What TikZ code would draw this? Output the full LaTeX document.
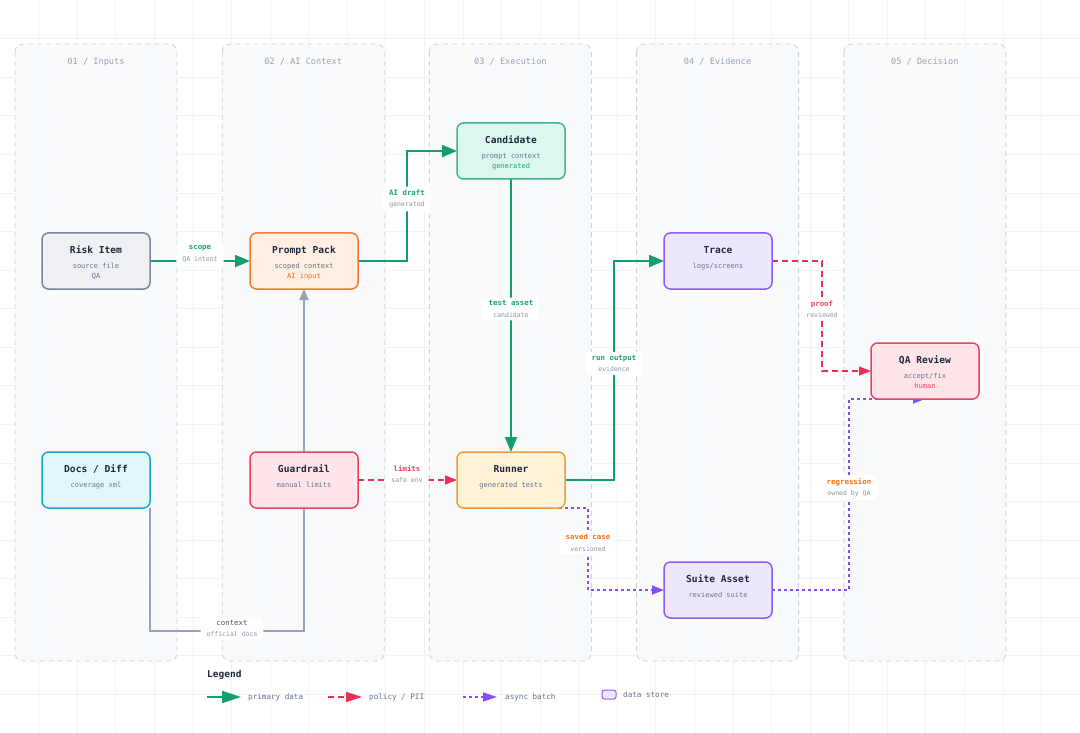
\documentclass[tikz,border=0pt]{standalone}
\usepackage{fontspec}
\setmainfont{DejaVu Sans Mono}
\usetikzlibrary{arrows.meta,calc}
\definecolor{gridc}{HTML}{F1F4F7}
\definecolor{lanefill}{HTML}{F8FAFC}
\definecolor{laneline}{HTML}{CBD5E1}
\definecolor{lanetext}{HTML}{94A3B8}
\definecolor{ink}{HTML}{1E293B}
\definecolor{subink}{HTML}{64748B}
\definecolor{lsub}{HTML}{8A94A6}
\definecolor{gline}{HTML}{129E6E}
\definecolor{gtext}{HTML}{17A673}
\definecolor{rline}{HTML}{EC2F55}
\definecolor{rtext}{HTML}{F43F5E}
\definecolor{pline}{HTML}{8450F4}
\definecolor{otext}{HTML}{F47216}
\definecolor{grline}{HTML}{94A3B8}
\definecolor{ctxtext}{HTML}{475569}
% node colours
\definecolor{riskfill}{HTML}{EEF0F4}\definecolor{riskline}{HTML}{7A8599}
\definecolor{docsfill}{HTML}{E0F8FC}\definecolor{docsline}{HTML}{1FA3C8}
\definecolor{promptfill}{HTML}{FFEEE2}\definecolor{promptline}{HTML}{F47A36}
\definecolor{rosefill}{HTML}{FFE5EA}\definecolor{roseline}{HTML}{EA4262}
\definecolor{candfill}{HTML}{DCF8EE}\definecolor{candline}{HTML}{3DB887}
\definecolor{runfill}{HTML}{FEF3D6}\definecolor{runline}{HTML}{EE9B33}
\definecolor{violfill}{HTML}{EDE7FE}\definecolor{violline}{HTML}{8B5CF6}
\pgfdeclarelayer{bg}\pgfdeclarelayer{edges}\pgfdeclarelayer{fg}
\pgfsetlayers{bg,edges,main,fg}
\newcommand\lblfont{\fontsize{7.4}{11.5}\selectfont\bfseries}
\newcommand\mkbox[6]{%
  \node[box,#4] (#1) at (#2,#3) {};
  \node[ttl] at ($(#1.center)+(0,-7.5)$) {#5};
  \node[subt] at ($(#1.center)+(0,7.5)$) {#6};
}
\begin{document}
\begin{tikzpicture}[x=1pt,y=-1pt,
  lane/.style={draw=laneline,fill=lanefill,fill opacity=0.85,draw opacity=1,line width=0.9pt,dash pattern=on 5pt off 4pt,rounded corners=8pt},
  lanettl/.style={text=lanetext,font=\fontsize{8.6}{10}\selectfont,inner sep=0pt,anchor=center},
  box/.style={draw,minimum width=108pt,minimum height=56pt,inner sep=0pt,outer sep=0pt,rounded corners=6.5pt,line width=1.5pt},
  ttl/.style={anchor=base,inner sep=0pt,text=ink,font=\fontsize{9.6}{11}\selectfont\bfseries},
  subt/.style={anchor=base,inner sep=0pt,text=subink,font=\fontsize{7}{8}\selectfont},
  risk/.style={fill=riskfill,draw=riskline},
  docs/.style={fill=docsfill,draw=docsline},
  prompt/.style={fill=promptfill,draw=promptline},
  rose/.style={fill=rosefill,draw=roseline},
  cand/.style={fill=candfill,draw=candline},
  run/.style={fill=runfill,draw=runline},
  viol/.style={fill=violfill,draw=violline},
  gflow/.style={draw=gline,line width=2pt,-{Triangle[length=15pt,width=12pt]}},
  rflow/.style={draw=rline,line width=1.6pt,dash pattern=on 6pt off 4pt,-{Triangle[length=12pt,width=9pt]}},
  pflow/.style={draw=pline,line width=1.6pt,dash pattern=on 3pt off 3pt,-{Triangle[length=12pt,width=9pt]}},
  grflow/.style={draw=grline,line width=1.6pt,-{Triangle[length=11pt,width=9pt]}},
  elbl/.style={fill=white,rounded corners=3pt,inner xsep=6pt,inner ysep=3pt,align=center,text=lsub,font=\fontsize{6.5}{11.5}\selectfont},
  legtext/.style={anchor=west,inner sep=0pt,text=subink,font=\fontsize{7.6}{9}\selectfont},
]
\useasboundingbox (0,0) rectangle (1080,733);
\begin{pgfonlayer}{bg}
  \fill[white] (0,0) rectangle (1080,733);
  \foreach \i in {1,...,28} \draw[gridc,line width=0.5pt] (\i*38.57,0) -- (\i*38.57,733);
  \foreach \j in {1,...,19} \draw[gridc,line width=0.5pt] (0,\j*38.57) -- (1080,\j*38.57);
  \foreach \k/\t in {0/{01 / Inputs},1/{02 / AI Context},2/{03 / Execution},3/{04 / Evidence},4/{05 / Decision}}{
    \draw[lane] (15+207.2*\k,44) rectangle (177+207.2*\k,661);
    \node[lanettl] at (96+207.2*\k,62) {\t};
  }
\end{pgfonlayer}

% nodes
\mkbox{risk}{96}{261}{risk}{Risk Item}{source file}
\node[subt] at ($(risk.center)+(0,17.5)$) {QA};
\mkbox{docs}{96}{480}{docs}{Docs / Diff}{coverage xml}
\mkbox{prompt}{304}{261}{prompt}{Prompt Pack}{scoped context}
\node[subt,text=otext] at ($(prompt.center)+(0,17.5)$) {AI input};
\mkbox{guard}{304}{480}{rose}{Guardrail}{manual limits}
\mkbox{cand}{511}{151}{cand}{Candidate}{prompt context}
\node[subt,text=gtext] at ($(cand.center)+(0,17.5)$) {generated};
\mkbox{runner}{511}{480}{run}{Runner}{generated tests}
\mkbox{trace}{718}{261}{viol}{Trace}{logs/screens}
\mkbox{suite}{718}{590}{viol}{Suite Asset}{reviewed suite}
\mkbox{qa}{925}{371}{rose}{QA Review}{accept/fix}
\node[subt,text=rtext] at ($(qa.center)+(0,17.5)$) {human};

% connectors
\begin{pgfonlayer}{edges}
  \draw[gflow] (risk.east) -- (prompt.west);
  \draw[gflow] (prompt.east) -- ++(49,0) |- (cand.west);
  \draw[gflow] (cand.south) -- (runner.north);
  \draw[gflow] (runner.east) -- ++(49,0) |- (trace.west);
  \draw[rflow] (guard.east) -- (runner.west);
  \draw[rflow] (trace.east) -- ++(50,0) |- (qa.west);
  \draw[pflow] (runner.south) -- ++(77,0) |- (suite.west);
  \draw[pflow] (suite.east) -- ++(77,0) |- (qa.south);
  \draw[grflow] (docs.south east) -- ++(0,123) -| (prompt.south);
\end{pgfonlayer}

% connector labels
\begin{pgfonlayer}{fg}
  \node[elbl] (l1) at (200,254) {{\lblfont\color{gtext}scope}\\QA intent};
  \node[elbl] (l2) at (407,199) {{\lblfont\color{gtext}AI draft}\\generated};
  \node[elbl] (l3) at (511,309) {{\lblfont\color{gtext}test asset}\\candidate};
  \node[elbl] (l4) at (614,363.5) {{\lblfont\color{gtext}run output}\\evidence};
  \node[elbl] (l5) at (407,474) {{\lblfont\color{rtext}limits}\\safe env};
  \node[elbl] (l6) at (822,309) {{\lblfont\color{rtext}proof}\\reviewed};
  \node[elbl] (l7) at (849,487.5) {{\lblfont\color{otext}regression}\\owned by QA};
  \node[elbl] (l8) at (588,542.5) {{\lblfont\color{otext}saved case}\\versioned};
  \node[elbl] (l9) at (232,628.5) {{\fontsize{7.4}{11.5}\selectfont\color{ctxtext}context}\\official docs};
\end{pgfonlayer}

% legend
\node[anchor=west,inner sep=0pt,text=ink,font=\fontsize{9.5}{11}\selectfont\bfseries] (leg) at (207,675) {Legend};
\coordinate (g1) at (207,697); \coordinate (g2) at (241,697);
\coordinate (r1) at (328,697); \coordinate (r2) at (362,697);
\coordinate (p1) at (463,697); \coordinate (p2) at (497,697);
\draw[gflow,-{Triangle[length=19pt,width=12pt]}] (g1) -- (g2);
\draw[rflow,-{Triangle[length=16pt,width=10pt]}] (r1) -- (r2);
\draw[pflow,-{Triangle[length=14pt,width=9pt]}] (p1) -- (p2);
\node[legtext] (lg) at (248,697) {primary data};
\node[legtext] (lr) at (369,697) {policy / PII};
\node[legtext] (lp) at (505,697) {async batch};
\node[draw=violline,fill=violfill,line width=1pt,rounded corners=2.5pt,minimum width=14pt,minimum height=9pt,inner sep=0pt] (ds) at (609,694.5) {};
\node[legtext] (lds) at (623,694.5) {data store};
\end{tikzpicture}
\end{document}
